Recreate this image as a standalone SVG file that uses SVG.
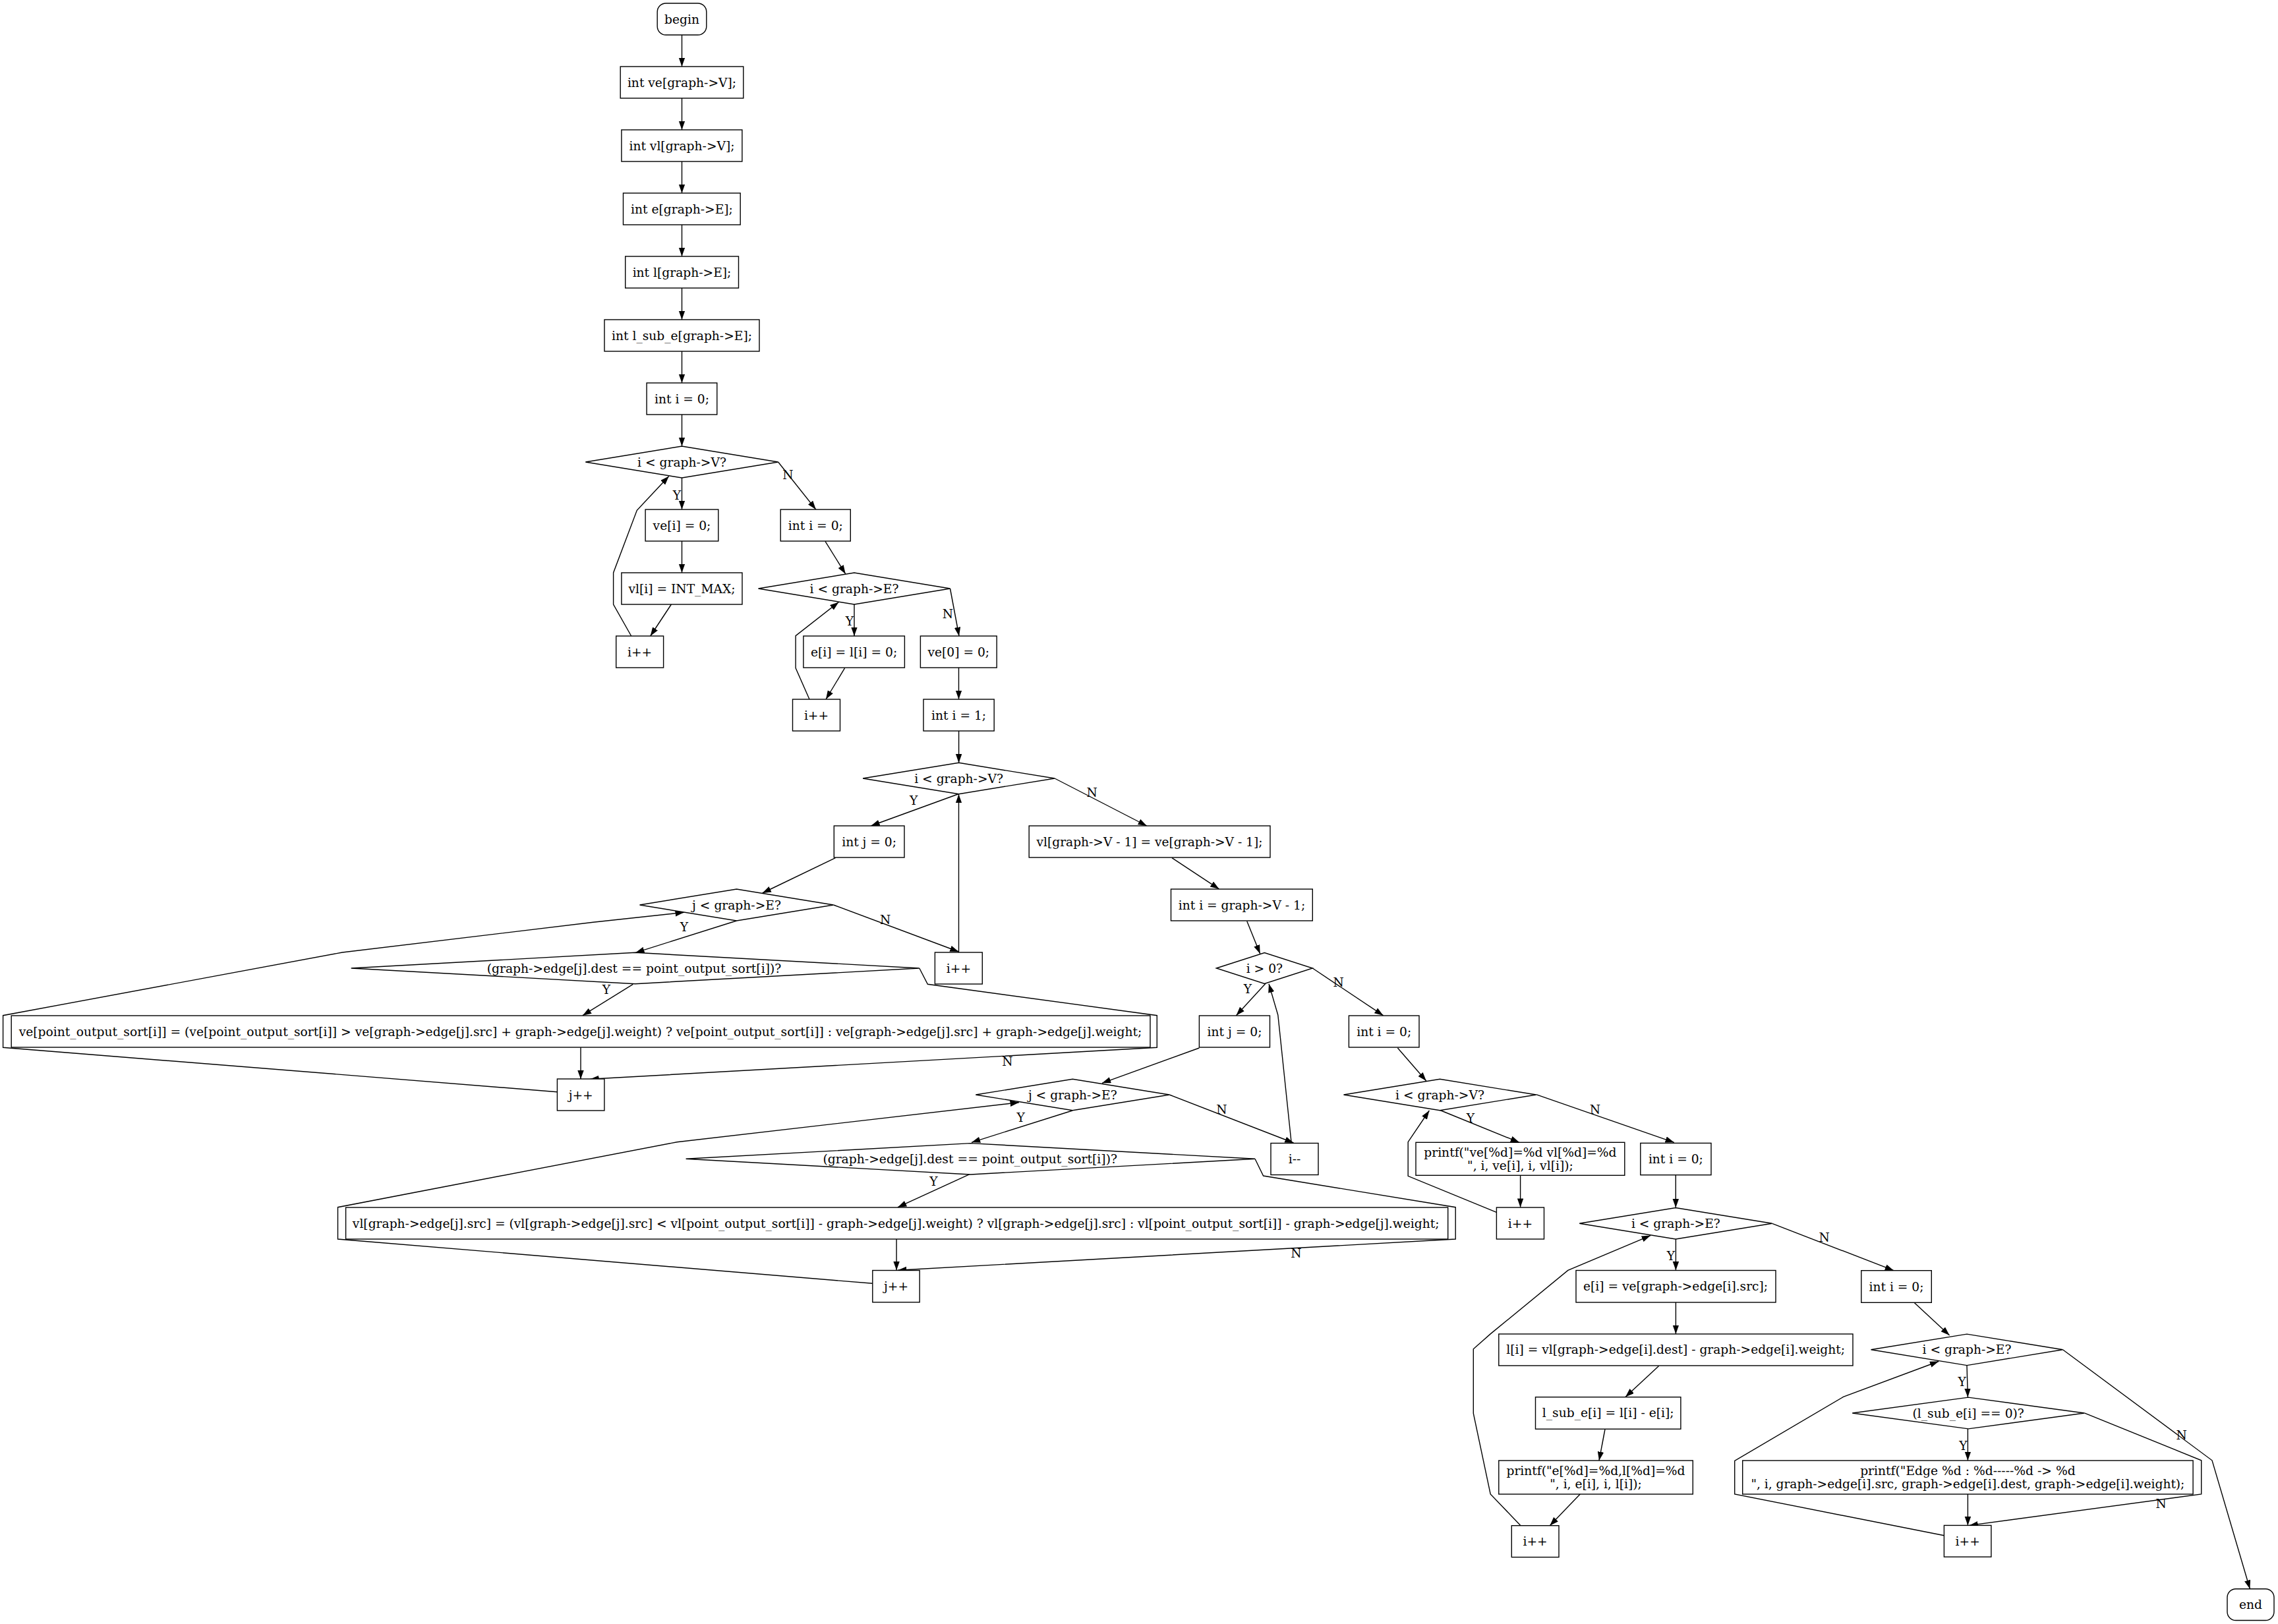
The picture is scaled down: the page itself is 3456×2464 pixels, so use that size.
<svg xmlns="http://www.w3.org/2000/svg" width="3456" height="2464" viewBox="0 0 3456 2464">
<style>
.n rect,.n polygon{fill:#fff;stroke:#000;stroke-width:1.4}
text{font-family:"DejaVu Serif","Liberation Serif",serif;font-size:18.67px;text-anchor:middle;fill:#000}
.e polyline{fill:none;stroke:#000;stroke-width:1.4;marker-end:url(#a)}
.e polyline.nm{marker-end:none}
</style>
<defs>
<marker id="a" markerUnits="userSpaceOnUse" markerWidth="14" markerHeight="10" refX="13.3" refY="4.7" orient="auto"><path d="M0,0 L13.3,4.7 L0,9.4 z" fill="#000"/></marker>
</defs>
<rect width="3456" height="2464" fill="#fff"/>
<g class="e" id="connectors">
<polyline points="1034.5,53 1034.5,101"/>
<polyline points="1034.5,149 1034.5,197"/>
<polyline points="1034.5,245 1034.5,293"/>
<polyline points="1034.5,341 1034.5,389"/>
<polyline points="1034.5,437 1034.5,485"/>
<polyline points="1034.5,533 1034.5,581"/>
<polyline points="1034.5,629 1034.5,677"/>
<polyline points="1034.5,725 1034.5,773"/>
<polyline points="1180.6,701 1237.8,773"/>
<polyline points="1034.5,821 1034.5,869"/>
<polyline points="1018.4,917 986.7,965"/>
<polyline points="957.7,965 930.6,917 930.6,869 966.3,774.3 1014.8,722.5"/>
<polyline points="1252,821.4 1282.7,870.7"/>
<polyline points="1296,917 1296,965"/>
<polyline points="1441.5,893 1455,965"/>
<polyline points="1281.6,1013.6 1253,1061"/>
<polyline points="1228,1061 1207.1,1013.6 1207.1,964.6 1272.4,913.6"/>
<polyline points="1454.5,1013 1454.5,1061"/>
<polyline points="1454.6,1109 1454.6,1157.4"/>
<polyline points="1454.6,1204.5 1321.4,1253"/>
<polyline points="1600.1,1181 1739.8,1253"/>
<polyline points="1267.4,1301.7 1156.6,1355"/>
<polyline points="1778,1301.7 1849.5,1348.8"/>
<polyline points="1891.8,1397.7 1911.7,1447"/>
<polyline points="1117.5,1397 964.3,1445.3"/>
<polyline points="1264.5,1373 1454.5,1444"/>
<polyline points="1454.5,1445 1454.5,1205"/>
<polyline points="960.3,1493.3 884,1540.7"/>
<polyline points="1394.8,1469 1407.4,1493.3 1755.3,1540.7 1755.3,1589.3 895.4,1637.3"/>
<polyline points="881,1589.3 881,1637.3"/>
<polyline points="845.4,1656.7 4.6,1589.3 4.6,1540.7 519.5,1445 900,1399.3 1037.8,1384.3"/>
<polyline points="1920,1492.3 1875.5,1540.7"/>
<polyline points="1991.3,1469 2098.5,1540.7"/>
<polyline points="1819.4,1590 1672,1643.3"/>
<polyline points="2120.4,1590 2163.8,1640"/>
<polyline points="1627,1685 1474,1733.3"/>
<polyline points="1774.2,1661 1962.5,1734"/>
<polyline points="1959.2,1734.3 1938.8,1540 1925,1492.7"/>
<polyline points="1471,1781.7 1362,1831.7"/>
<polyline points="1904,1758.3 1916.6,1784 2208.2,1831.7 2208.2,1880 1362,1927.3"/>
<polyline points="1360.1,1880 1360.1,1927.3"/>
<polyline points="1323.8,1947.3 512.5,1880 512.5,1831.7 1027.2,1732.7 1545.8,1672.7"/>
<polyline points="2183.7,1684 2305,1733.3"/>
<polyline points="2330.6,1660.7 2539.8,1733.3"/>
<polyline points="2306.6,1783.3 2306.6,1831.7"/>
<polyline points="2270.4,1839.3 2136.2,1784.3 2136.2,1732.7 2168.4,1685"/>
<polyline points="2542.3,1782.7 2542.3,1832.3"/>
<polyline points="2542.4,1880 2542.4,1927.4"/>
<polyline points="2688.6,1856.3 2873,1927.7"/>
<polyline points="2542.4,1976 2542.4,2024"/>
<polyline points="2516.6,2072.5 2466,2119.6"/>
<polyline points="2435,2168.5 2426,2216"/>
<polyline points="2397.2,2267 2351.3,2314.7"/>
<polyline points="2307,2314.7 2261.2,2266.9 2235.3,2144.4 2235.3,2046.8 2261.2,2023.9 2378.8,1927.4 2504,1874.6"/>
<polyline points="2904,1976.3 2957.6,2025.9"/>
<polyline points="2984,2071.6 2985.4,2120"/>
<polyline points="3129.5,2047.8 3356,2215.8 3413.4,2410.8"/>
<polyline points="2985.4,2168 2985.4,2216"/>
<polyline points="3162.3,2143.9 3339.7,2215.8 3339.7,2266.9 2987.6,2314.4"/>
<polyline points="2985.4,2267 2985.4,2314.4"/>
<polyline points="2949.4,2329.8 2631.7,2266.9 2631.7,2216.5 2796.5,2119.4 2941.2,2065.5"/>
<text x="1027" y="757.5">Y</text>
<text x="1195.4" y="727.2">N</text>
<text x="1288.8" y="948.5">Y</text>
<text x="1437.8" y="937.9">N</text>
<text x="1386.2" y="1221.3">Y</text>
<text x="1656.6" y="1209.1">N</text>
<text x="1037.8" y="1413.2">Y</text>
<text x="1343.2" y="1402.1">N</text>
<text x="920" y="1508.2">Y</text>
<text x="1528.5" y="1616.5">N</text>
<text x="1893" y="1507">Y</text>
<text x="2030.6" y="1496.7">N</text>
<text x="1548.6" y="1701.5">Y</text>
<text x="1853.5" y="1689.8">N</text>
<text x="1416.5" y="1799.2">Y</text>
<text x="1966.5" y="1908.2">N</text>
<text x="2231" y="1702.5">Y</text>
<text x="2420" y="1689.8">N</text>
<text x="2535" y="1911.5">Y</text>
<text x="2767.6" y="1883.5">N</text>
<text x="2976.7" y="2102.5">Y</text>
<text x="3309.7" y="2183.5">N</text>
<text x="2978.3" y="2199.7">Y</text>
<text x="3278.6" y="2287.8">N</text>
</g>
<g class="n" id="begin"><rect x="997.2" y="5" width="74.6" height="48" rx="13"/><text x="1034.5" y="35.5">begin</text></g>
<g class="n" id="n_ve"><rect x="941.2" y="101" width="186.6" height="48"/><text x="1034.5" y="131.5">int ve[graph-&gt;V];</text></g>
<g class="n" id="n_vl"><rect x="942.9" y="197" width="183" height="48"/><text x="1034.5" y="227.5">int vl[graph-&gt;V];</text></g>
<g class="n" id="n_e"><rect x="945.5" y="293" width="177.7" height="48"/><text x="1034.5" y="323.5">int e[graph-&gt;E];</text></g>
<g class="n" id="n_l"><rect x="948.7" y="389" width="171.8" height="48"/><text x="1034.5" y="419.5">int l[graph-&gt;E];</text></g>
<g class="n" id="n_lsub"><rect x="917" y="485" width="235" height="48"/><text x="1034.5" y="515.5">int l_sub_e[graph-&gt;E];</text></g>
<g class="n" id="n_i0a"><rect x="981.1" y="581" width="106.7" height="48"/><text x="1034.5" y="611.5">int i = 0;</text></g>
<g class="n" id="d1"><polygon points="888.3,701 1034.5,677 1180.6,701 1034.5,725"/><text x="1034.5" y="707.5">i &lt; graph-&gt;V?</text></g>
<g class="n" id="n_vei"><rect x="979.1" y="773" width="110.7" height="48"/><text x="1034.5" y="803.5">ve[i] = 0;</text></g>
<g class="n" id="n_i0b"><rect x="1184.2" y="773" width="106.1" height="48"/><text x="1237.3" y="803.5">int i = 0;</text></g>
<g class="n" id="n_vli"><rect x="942.9" y="869" width="183.1" height="48"/><text x="1034.5" y="899.5">vl[i] = INT_MAX;</text></g>
<g class="n" id="n_ipp1"><rect x="934.7" y="965" width="71.9" height="48"/><text x="970.6" y="995.5">i++</text></g>
<g class="n" id="d2"><polygon points="1150.5,893 1296,869 1441.5,893 1296,917"/><text x="1296" y="899.5">i &lt; graph-&gt;E?</text></g>
<g class="n" id="n_eli"><rect x="1218.9" y="965" width="153.5" height="48"/><text x="1295.6" y="995.5">e[i] = l[i] = 0;</text></g>
<g class="n" id="n_ve0"><rect x="1396.4" y="965" width="115.8" height="48"/><text x="1454.3" y="995.5">ve[0] = 0;</text></g>
<g class="n" id="n_ipp2"><rect x="1202.5" y="1061" width="72" height="48"/><text x="1238.5" y="1091.5">i++</text></g>
<g class="n" id="n_i1"><rect x="1401" y="1061" width="107.2" height="48"/><text x="1454.6" y="1091.5">int i = 1;</text></g>
<g class="n" id="d3"><polygon points="1309.1,1181 1454.6,1157.3 1600.1,1181 1454.6,1204.7"/><text x="1454.6" y="1187.5">i &lt; graph-&gt;V?</text></g>
<g class="n" id="n_j0a"><rect x="1265.3" y="1253" width="106.7" height="48"/><text x="1318.6" y="1283.5">int j = 0;</text></g>
<g class="n" id="n_vlv"><rect x="1561.2" y="1253" width="365.8" height="48"/><text x="1744" y="1283.5" textLength="343" lengthAdjust="spacingAndGlyphs">vl[graph-&gt;V - 1] = ve[graph-&gt;V - 1];</text></g>
<g class="n" id="d4"><polygon points="970.5,1373 1117.5,1349 1264.5,1373 1117.5,1397"/><text x="1117.5" y="1379.5">j &lt; graph-&gt;E?</text></g>
<g class="n" id="n_iV"><rect x="1776.5" y="1349" width="214.8" height="48"/><text x="1884" y="1379.5">int i = graph-&gt;V - 1;</text></g>
<g class="n" id="c1"><polygon points="532.7,1469 963.7,1445.3 1394.8,1469 963.7,1492.7"/><text x="962" y="1475.5" textLength="446.6" lengthAdjust="spacingAndGlyphs">(graph-&gt;edge[j].dest == point_output_sort[i])?</text></g>
<g class="n" id="n_ipp3"><rect x="1418.4" y="1445" width="71.9" height="48"/><text x="1454.4" y="1475.5">i++</text></g>
<g class="n" id="d5"><polygon points="1845.4,1469 1918.4,1445.6 1991.3,1469 1918.4,1492.4"/><text x="1918.4" y="1475.5">i &gt; 0?</text></g>
<g class="n" id="box1"><rect x="17.2" y="1541" width="1727.8" height="48"/><text x="880.5" y="1571.5" textLength="1703.6" lengthAdjust="spacingAndGlyphs">ve[point_output_sort[i]] = (ve[point_output_sort[i]] &gt; ve[graph-&gt;edge[j].src] + graph-&gt;edge[j].weight) ? ve[point_output_sort[i]] : ve[graph-&gt;edge[j].src] + graph-&gt;edge[j].weight;</text></g>
<g class="n" id="n_j0b"><rect x="1819.4" y="1541" width="107.1" height="48"/><text x="1873" y="1571.5">int j = 0;</text></g>
<g class="n" id="n_i0c"><rect x="2046.4" y="1541" width="106.6" height="48"/><text x="2099.7" y="1571.5">int i = 0;</text></g>
<g class="n" id="n_jpp1"><rect x="845.4" y="1637" width="71.5" height="48"/><text x="881.2" y="1667.5">j++</text></g>
<g class="n" id="d6"><polygon points="1480.3,1661 1627.3,1637.2 1774.2,1661 1627.3,1684.8"/><text x="1627.3" y="1667.5">j &lt; graph-&gt;E?</text></g>
<g class="n" id="d7"><polygon points="2038.5,1661 2184.5,1637.3 2330.6,1661 2184.5,1684.7"/><text x="2184.5" y="1667.5">i &lt; graph-&gt;V?</text></g>
<g class="n" id="c2"><polygon points="1040.6,1758.3 1472.3,1734.6 1904,1758.3 1472.3,1782"/><text x="1471.7" y="1764.8" textLength="446.6" lengthAdjust="spacingAndGlyphs">(graph-&gt;edge[j].dest == point_output_sort[i])?</text></g>
<g class="n" id="n_imm"><rect x="1928" y="1734.5" width="72" height="48"/><text x="1964" y="1765">i--</text></g>
<g class="n" id="n_pve"><rect x="2148" y="1733.3" width="316.8" height="50"/><text x="2306.4" y="1754.8">printf("ve[%d]=%d vl[%d]=%d</text><text x="2306.4" y="1774.8">", i, ve[i], i, vl[i]);</text></g>
<g class="n" id="n_i0d"><rect x="2488.8" y="1734.4" width="107.2" height="48.3"/><text x="2542.4" y="1765">int i = 0;</text></g>
<g class="n" id="box2"><rect x="524.6" y="1832" width="1672.1" height="48"/><text x="1359.2" y="1862.5" textLength="1648.7" lengthAdjust="spacingAndGlyphs">vl[graph-&gt;edge[j].src] = (vl[graph-&gt;edge[j].src] &lt; vl[point_output_sort[i]] - graph-&gt;edge[j].weight) ? vl[graph-&gt;edge[j].src] : vl[point_output_sort[i]] - graph-&gt;edge[j].weight;</text></g>
<g class="n" id="n_ipp4"><rect x="2270.4" y="1832" width="72.1" height="48"/><text x="2306.4" y="1862.5">i++</text></g>
<g class="n" id="d8"><polygon points="2396.2,1856.2 2542.4,1832.5 2688.6,1856.2 2542.4,1880"/><text x="2542.4" y="1862.7">i &lt; graph-&gt;E?</text></g>
<g class="n" id="n_jpp2"><rect x="1323.8" y="1927.5" width="71.4" height="48.3"/><text x="1359.5" y="1958.2">j++</text></g>
<g class="n" id="n_ei"><rect x="2391" y="1927.5" width="303" height="48.5"/><text x="2542" y="1958.2" textLength="280" lengthAdjust="spacingAndGlyphs">e[i] = ve[graph-&gt;edge[i].src];</text></g>
<g class="n" id="n_i0e"><rect x="2823.8" y="1927.7" width="106.5" height="48.6"/><text x="2877" y="1958.5">int i = 0;</text></g>
<g class="n" id="n_li"><rect x="2273.8" y="2024" width="537.2" height="48"/><text x="2542.2" y="2054.3" textLength="513.7" lengthAdjust="spacingAndGlyphs">l[i] = vl[graph-&gt;edge[i].dest] - graph-&gt;edge[i].weight;</text></g>
<g class="n" id="d9"><polygon points="2838.5,2047.8 2984,2024.1 3129.5,2047.8 2984,2071.6"/><text x="2984" y="2054.3">i &lt; graph-&gt;E?</text></g>
<g class="n" id="n_lsei"><rect x="2329.5" y="2119.7" width="220.4" height="48.5"/><text x="2439.7" y="2150.4">l_sub_e[i] = l[i] - e[i];</text></g>
<g class="n" id="c3"><polygon points="2810.2,2144 2986.2,2120.1 3162.3,2144 2986.2,2167.9"/><text x="2986.2" y="2150.5">(l_sub_e[i] == 0)?</text></g>
<g class="n" id="n_pe"><rect x="2273.8" y="2216" width="294.5" height="51"/><text x="2421" y="2238">printf("e[%d]=%d,l[%d]=%d</text><text x="2421" y="2258">", i, e[i], i, l[i]);</text></g>
<g class="n" id="n_pedge"><rect x="2643.7" y="2216" width="683.4" height="51"/><text x="2985.4" y="2238" textLength="326.5" lengthAdjust="spacingAndGlyphs">printf("Edge %d : %d-----%d -&gt; %d</text><text x="2985.4" y="2258" textLength="658" lengthAdjust="spacingAndGlyphs">", i, graph-&gt;edge[i].src, graph-&gt;edge[i].dest, graph-&gt;edge[i].weight);</text></g>
<g class="n" id="n_ipp5"><rect x="2293.3" y="2314.7" width="71.7" height="47.9"/><text x="2329.1" y="2345.2">i++</text></g>
<g class="n" id="n_ipp6"><rect x="2949.4" y="2314.4" width="71.5" height="47.8"/><text x="2985.2" y="2344.8">i++</text></g>
<g class="n" id="end"><rect x="3379" y="2410.8" width="71" height="47.7" rx="13"/><text x="3414.5" y="2441.2">end</text></g>
</svg>
